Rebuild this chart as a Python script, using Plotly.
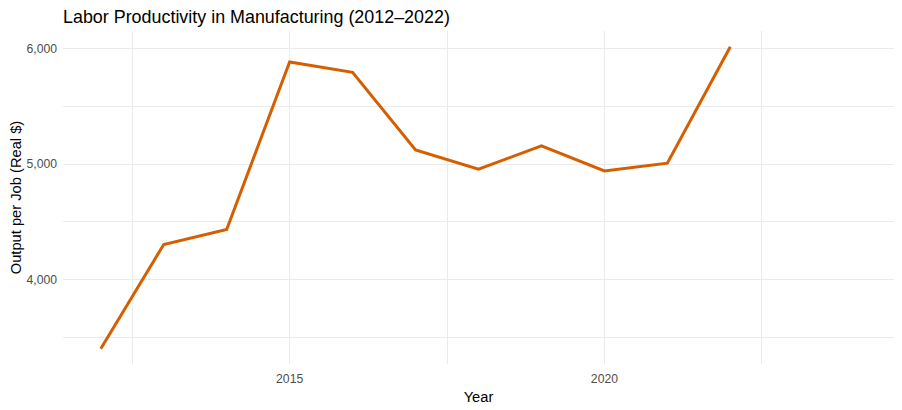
import plotly.graph_objects as go

# Output per job
years = [2012, 2013, 2014, 2015, 2016, 2017, 2018, 2019, 2020, 2021, 2022]
output_per_job = [3399, 4303, 4433, 5887, 5797, 5124, 4957, 5159, 4942, 5009, 6020]

FONT = "Liberation Sans, Arial, sans-serif"
GRID = "#EBEBEB"

# the page body keeps its default 8px margin, so the figure is sized to fit inside it
W, H = 894, 402

fig = go.Figure(
    go.Scatter(
        x=years, y=output_per_job, mode="lines",
        line=dict(color="#D55E00", width=3),
        hoverinfo="x+y",
    )
)

fig.update_layout(
    width=W, height=H,
    margin=dict(l=55, r=8, t=23, b=46),
    paper_bgcolor="white", plot_bgcolor="white",
    showlegend=False,
    font=dict(family=FONT, color="black"),
    title=dict(
        text="Labor Productivity in Manufacturing (2012–2022)",
        font=dict(size=17.9, color="black"),
        x=0, xref="paper", xanchor="left",
        y=1 - 8.5 / H, yref="container", yanchor="middle",
    ),
)

fig.update_xaxes(
    range=[2011.4, 2024.6],
    tick0=2015, dtick=5,
    showgrid=True, gridcolor=GRID, gridwidth=1,
    minor=dict(tick0=2012.5, dtick=2.5, showgrid=True, gridcolor=GRID, gridwidth=1),
    zeroline=False, showline=False, ticks="",
    tickfont=dict(size=12.2, color="#4D4D4D"),
    ticklabelstandoff=6,
    automargin=False,
    title=dict(text="Year", font=dict(size=14.7, color="black"), standoff=6),
)

fig.update_yaxes(
    range=[3266, 6156],
    tick0=0, dtick=1000, tickformat=",",
    showgrid=True, gridcolor=GRID, gridwidth=1,
    minor=dict(tick0=0, dtick=500, showgrid=True, gridcolor=GRID, gridwidth=1),
    zeroline=False, showline=False, ticks="",
    tickfont=dict(size=12.2, color="#4D4D4D"),
    ticklabelstandoff=5,
    automargin=False,
    title=dict(text="Output per Job (Real $)", font=dict(size=14.7, color="black"), standoff=4),
)

fig.write_html("out.html")
